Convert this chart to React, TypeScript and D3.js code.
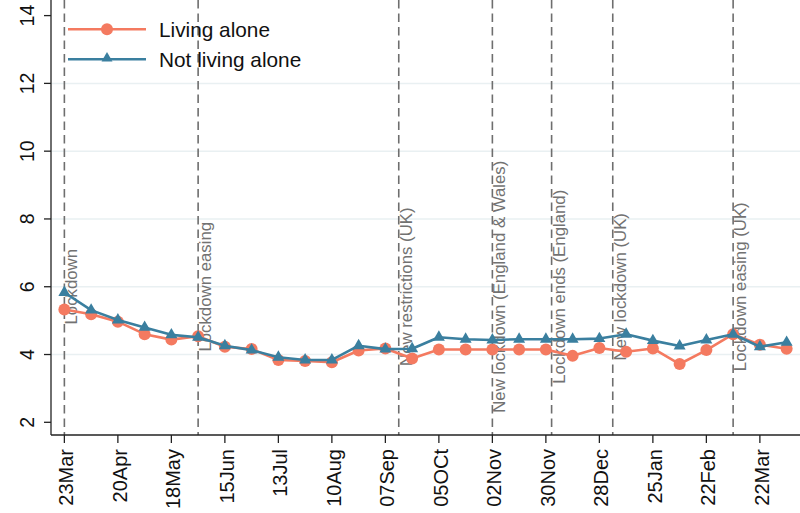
import React from "react";
import * as d3 from "d3";

const dates: string[] = [
  "2020-03-23", "2020-04-06", "2020-04-20", "2020-05-04", "2020-05-18", "2020-06-01",
  "2020-06-15", "2020-06-29", "2020-07-13", "2020-07-27", "2020-08-10", "2020-08-24",
  "2020-09-07", "2020-09-21", "2020-10-05", "2020-10-19", "2020-11-02", "2020-11-16",
  "2020-11-30", "2020-12-14", "2020-12-28", "2021-01-11", "2021-01-25", "2021-02-08",
  "2021-02-22", "2021-03-08", "2021-03-22", "2021-04-05",
];

const livingAlone: number[] = [
  5.33, 5.19, 4.97, 4.6, 4.44, 4.54, 4.23, 4.16, 3.84, 3.81, 3.77, 4.12, 4.18, 3.88,
  4.15, 4.15, 4.15, 4.15, 4.15, 3.96, 4.19, 4.08, 4.18, 3.72, 4.13, 4.6, 4.29, 4.17,
];

const notLivingAlone: number[] = [
  5.83, 5.31, 5.02, 4.8, 4.58, 4.51, 4.26, 4.13, 3.92, 3.84, 3.84, 4.26, 4.16, 4.17,
  4.51, 4.45, 4.43, 4.45, 4.45, 4.45, 4.47, 4.6, 4.41, 4.25, 4.43, 4.6, 4.23, 4.36,
];

const tickDates: string[] = [
  "2020-03-23", "2020-04-20", "2020-05-18", "2020-06-15", "2020-07-13", "2020-08-10",
  "2020-09-07", "2020-10-05", "2020-11-02", "2020-11-30", "2020-12-28", "2021-01-25",
  "2021-02-22", "2021-03-22",
];
const tickLabels: string[] = [
  "23Mar", "20Apr", "18May", "15Jun", "13Jul", "10Aug", "07Sep", "05OCt", "02Nov",
  "30Nov", "28Dec", "25Jan", "22Feb", "22Mar",
];

const yTicks: number[] = [2, 4, 6, 8, 10, 12, 14];
const yGrid: number[] = [4, 6, 8, 10, 12];

const eventDates: string[] = [
  "2020-03-23", "2020-06-01", "2020-09-14", "2020-11-02", "2020-12-03", "2021-01-04", "2021-03-08",
];
const eventLabels: string[] = [
  "Lockdown", "Lockdown easing", "New restrictions (UK)", "New lockdown (England & Wales)",
  "Lockdown ends (England)", "New lockdown (UK)", "Lockdown easing (UK)",
];

const seriesNames: string[] = ["Living alone", "Not living alone"];
const seriesColors: string[] = ["#f47a60", "#3a7f9f"];

const parse = d3.timeParse("%Y-%m-%d");

export default function App() {
  const W = 800;
  const H = 513;
  const left = 51;
  const right = 800;
  const bottom = 435;

  const x = d3
    .scaleTime()
    .domain([parse("2020-03-16")!, parse("2021-04-12")!])
    .range([left, right]);
  const y = d3.scaleLinear().domain([2, 14]).range([422.3, 15.6]);

  const line = d3
    .line<[Date, number]>()
    .x((d) => x(d[0]))
    .y((d) => y(d[1]));

  const series = [livingAlone, notLivingAlone].map((vals) =>
    vals.map((v, i) => [parse(dates[i])!, v] as [Date, number])
  );

  const tri = (cx: number, cy: number, s: number) => {
    const h = s * 0.866;
    return `M${cx},${cy - (2 * h) / 3}L${cx + s / 2},${cy + h / 3}L${cx - s / 2},${cy + h / 3}Z`;
  };

  const font = "'Liberation Sans', Arial, sans-serif";

  return (
    <svg
      width={W}
      height={H}
      style={{ position: "absolute", left: 0, top: 0, background: "#fff" }}
      fontFamily={font}
    >
      <rect x={0} y={0} width={W} height={H} fill="#fff" />
      {/* grid */}
      {yGrid.map((g) => (
        <line key={g} x1={left} x2={right} y1={y(g)} y2={y(g)} stroke="#e9f0f2" strokeWidth={1.5} />
      ))}
      {/* event lines */}
      {eventDates.map((d, i) => {
        const ex = x(parse(d)!);
        return (
          <g key={d}>
            <line x1={ex} x2={ex} y1={0} y2={bottom} stroke="#6e6e6e" strokeWidth={1.6} strokeDasharray="8.5,5" />
            <text
              transform={`translate(${ex + 13},${y(6)}) rotate(-90)`}
              textAnchor="middle"
              fontSize={16.8}
              fill="#727272"
            >
              {eventLabels[i]}
            </text>
          </g>
        );
      })}
      {/* series */}
      {series.map((s, si) => (
        <g key={si}>
          <path d={line(s) || ""} fill="none" stroke={seriesColors[si]} strokeWidth={2.6} strokeLinejoin="round" />
          {s.map((p, i) =>
            si === 0 ? (
              <circle key={i} cx={x(p[0])} cy={y(p[1])} r={6} fill={seriesColors[si]} />
            ) : (
              <path key={i} d={tri(x(p[0]), y(p[1]), 12)} fill={seriesColors[si]} />
            )
          )}
        </g>
      ))}
      {/* axes */}
      <line x1={left} x2={left} y1={0} y2={bottom} stroke="#222" strokeWidth={1.3} />
      <line x1={left} x2={right} y1={bottom} y2={bottom} stroke="#222" strokeWidth={1.3} />
      {yTicks.map((t) => (
        <g key={t}>
          <line x1={left - 7} x2={left} y1={y(t)} y2={y(t)} stroke="#222" strokeWidth={1.3} />
          <text transform={`translate(34,${y(t)}) rotate(-90)`} textAnchor="middle" fontSize={19.5} fill="#111">
            {t}
          </text>
        </g>
      ))}
      {tickDates.map((d, i) => {
        const tx = x(parse(d)!);
        return (
          <g key={d}>
            <line x1={tx} x2={tx} y1={bottom} y2={bottom + 8} stroke="#222" strokeWidth={1.3} />
            <text
              transform={`translate(${tx},449) rotate(-90)`}
              textAnchor="end"
              dy="0.44em"
              fontSize={20}
              fill="#111"
            >
              {tickLabels[i]}
            </text>
          </g>
        );
      })}
      {/* legend */}
      {seriesNames.map((n, i) => {
        const ly = 29.3 + i * 30;
        return (
          <g key={n}>
            <line x1={68} x2={146} y1={ly} y2={ly} stroke={seriesColors[i]} strokeWidth={2.6} />
            {i === 0 ? (
              <circle cx={107} cy={ly} r={6} fill={seriesColors[i]} />
            ) : (
              <path d={tri(107, ly - 1, 11)} fill={seriesColors[i]} />
            )}
            <text x={159} y={ly} dy="0.35em" fontSize={20.8} fill="#111">
              {n}
            </text>
          </g>
        );
      })}
    </svg>
  );
}
